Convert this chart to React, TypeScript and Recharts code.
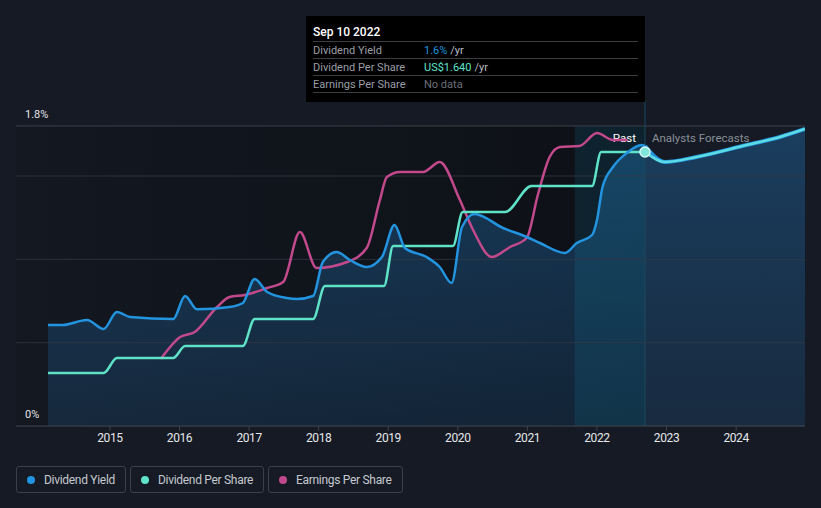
import React from 'react';
import {
  ComposedChart,
  Line,
  Area,
  XAxis,
  YAxis,
  CartesianGrid,
  ReferenceArea,
  ReferenceLine,
  ReferenceDot,
} from 'recharts';

// ---------- data ----------
const yearTicks = [2015, 2016, 2017, 2018, 2019, 2020, 2021, 2022, 2023, 2024];
const yTicks = [0, 0.5, 1.0, 1.5, 1.8];
const yInnerGrid = [0.5, 1.0, 1.5];
const yLabelValues = [0, 1.8];
const yLabelTexts = ['0%', '1.8%'];

const xDomainMin = 2013.65;
const xDomainMax = 2024.99;
const bandStart = 2021.68;
const hoverYear = 2022.69;

// Dividend Yield (%) — past
const yieldYears = [
  2014.11, 2014.32, 2014.67, 2014.91, 2015.1, 2015.29, 2015.91, 2016.08, 2016.25, 2016.72,
  2016.91, 2017.08, 2017.26, 2017.54, 2017.69, 2017.92, 2018.06, 2018.26, 2018.45, 2018.69,
  2018.91, 2019.09, 2019.24, 2019.55, 2019.74, 2019.91, 2020.06, 2020.24, 2020.65, 2020.99,
  2021.18, 2021.54, 2021.71, 2021.93, 2022.0, 2022.08, 2022.23, 2022.43, 2022.64, 2022.69,
];
const yieldValues = [
  0.606, 0.606, 0.636, 0.582, 0.684, 0.654, 0.642, 0.78, 0.7, 0.714,
  0.738, 0.882, 0.804, 0.768, 0.762, 0.78, 0.984, 1.044, 0.996, 0.954,
  1.014, 1.206, 1.068, 1.014, 0.954, 0.858, 1.194, 1.272, 1.188, 1.134,
  1.098, 1.038, 1.098, 1.146, 1.236, 1.434, 1.554, 1.638, 1.686, 1.68,
];

// Dividend Per Share (US$) — past
const dpsYears = [
  2014.11, 2014.91, 2015.1, 2015.91, 2016.08, 2016.91, 2017.08, 2017.92, 2018.09, 2018.94,
  2019.07, 2019.93, 2020.07, 2020.68, 2021.06, 2021.93, 2022.06, 2022.69,
];
const dpsValues = [
  0.318, 0.318, 0.408, 0.408, 0.48, 0.48, 0.642, 0.642, 0.84, 0.84,
  1.08, 1.08, 1.284, 1.284, 1.44, 1.44, 1.644, 1.644,
];

// Earnings Per Share — past
const epsYears = [
  2015.73, 2016.01, 2016.22, 2016.54, 2016.72, 2016.94, 2017.26, 2017.49, 2017.73, 2017.97,
  2018.41, 2018.69, 2018.88, 2018.98, 2019.17, 2019.5, 2019.74, 2020.03, 2020.22, 2020.49,
  2020.75, 2020.99, 2021.15, 2021.32, 2021.47, 2021.75, 2022.0, 2022.23, 2022.44,
];
const epsValues = [
  0.402, 0.534, 0.564, 0.714, 0.774, 0.786, 0.828, 0.864, 1.164, 0.948,
  0.984, 1.068, 1.356, 1.494, 1.524, 1.524, 1.584, 1.356, 1.176, 1.014,
  1.074, 1.128, 1.386, 1.614, 1.674, 1.68, 1.758, 1.716, 1.716,
];

// Analyst forecasts
const forecastYears = [2022.69, 2022.98, 2023.43, 2024.15, 2024.63, 2024.99];
const forecastDpsValues = [1.644, 1.584, 1.614, 1.686, 1.734, 1.782];
const forecastYieldValues = [1.68, 1.584, 1.614, 1.686, 1.734, 1.782];

const hoverLabel = 'Sep 10 2022';
const hoverYieldText = '1.6%';
const hoverDpsText = 'US$1.640';
const hoverDpsValue = 1.644;

// ---------- build series ----------
const zip = (xs: number[], vs: number[]) => xs.map((x, i) => ({ x, v: vs[i] }));
const yieldData = zip(yieldYears, yieldValues);
const dpsData = zip(dpsYears, dpsValues);
const epsData = zip(epsYears, epsValues);
const forecastDpsData = zip(forecastYears, forecastDpsValues);
const forecastYieldData = zip(forecastYears, forecastYieldValues);
const areaData = [...yieldData, ...forecastYieldData.slice(1)];

const C_YIELD = '#2394df';
const C_DPS = '#5fe3c8';
const C_EPS = '#c24a8c';
const C_FORE = '#5cdce2';
const BG = '#151a24';
const FONT = 'Roboto, "Noto Sans", sans-serif';

const makeYLabel = (text: string) => (props: any) => {
  const vb = props.viewBox || {};
  return (
    <text x={(vb.x ?? 0) + 9} y={(vb.y ?? 0) - 8} fill="#e2e4e8" fontSize={11} fontFamily={FONT} textAnchor="start">
      {text}
    </text>
  );
};

const PastLabel = (props: any) => {
  const vb = props.viewBox || {};
  const x = vb.x ?? 0;
  const y = (vb.y ?? 0) + 16;
  return (
    <g fontFamily={FONT} fontSize={11.5}>
      <text x={x - 9} y={y} fill="#ffffff" textAnchor="end">Past</text>
      <text x={x + 7} y={y} fill="#8a8f97" textAnchor="start">Analysts Forecasts</text>
    </g>
  );
};

const legendItems = [
  { label: 'Dividend Yield', color: C_YIELD, width: 110 },
  { label: 'Dividend Per Share', color: C_DPS, width: 134 },
  { label: 'Earnings Per Share', color: C_EPS, width: 135 },
];

export default function App() {
  return (
    <div
      style={{
        position: 'absolute',
        left: 0,
        top: 0,
        width: 821,
        height: 508,
        background: BG,
        fontFamily: FONT,
        overflow: 'hidden',
      }}
    >
      <ComposedChart
        width={821}
        height={508}
        margin={{ top: 126, right: 16, bottom: 52, left: 16 }}
      >
        <defs>
          <linearGradient id="pastBg" x1="0" y1="0" x2="1" y2="0">
            <stop offset="0%" stopColor="#131821" />
            <stop offset="100%" stopColor="#0d1016" />
          </linearGradient>
          <linearGradient id="areaFill" x1="0" y1="0" x2="0" y2="1">
            <stop offset="0%" stopColor="#1e5585" stopOpacity={0.6} />
            <stop offset="100%" stopColor="#1e5585" stopOpacity={0.28} />
          </linearGradient>
        </defs>
        <XAxis
          dataKey="x"
          type="number"
          domain={[xDomainMin, xDomainMax]}
          ticks={yearTicks}
          allowDataOverflow
          height={30}
          stroke="#3d424b"
          tickSize={5}
          tick={{ fill: '#e6e8eb', fontSize: 12, fontFamily: FONT, letterSpacing: -0.4 }}
        />
        <YAxis
          type="number"
          domain={[0, 1.8]}
          ticks={yTicks}
          width={0}
          axisLine={false}
          tickLine={false}
          tick={false}
          allowDataOverflow
        />
        <ReferenceArea x1={xDomainMin} x2={hoverYear} y1={0} y2={1.8} fill="url(#pastBg)" fillOpacity={1} stroke="none" />
        <CartesianGrid vertical={false} stroke="#2a2f38" />
        <Area
          data={areaData}
          dataKey="v"
          type="monotone"
          stroke="none"
          fill="url(#areaFill)"
          fillOpacity={1}
          isAnimationActive={false}
          dot={false}
          activeDot={false}
        />
        {yInnerGrid.map((v) => (
          <ReferenceLine key={'g' + v} y={v} stroke="#323844" strokeOpacity={0.8} />
        ))}
        <ReferenceLine y={1.8} stroke="#343943" />
        {yLabelValues.map((v, i) => (
          <ReferenceLine key={'l' + v} y={v} stroke="none" label={makeYLabel(yLabelTexts[i])} />
        ))}
        <ReferenceArea x1={bandStart} x2={hoverYear} y1={0} y2={1.8} fill="#13a0c8" fillOpacity={0.13} stroke="none" />
        <ReferenceLine
          segment={[{ x: hoverYear, y: 0 }, { x: hoverYear, y: 1.956 }]}
          ifOverflow="visible"
          stroke="#1d4a5e"
          strokeWidth={1}
        />
        <ReferenceLine x={hoverYear} stroke="none" label={<PastLabel />} />
        <Line data={epsData} dataKey="v" type="monotone" stroke={C_EPS} strokeWidth={2.5} dot={false} activeDot={false} isAnimationActive={false} />
        <Line data={dpsData} dataKey="v" type="monotone" stroke={C_DPS} strokeWidth={2.5} dot={false} activeDot={false} isAnimationActive={false} />
        <Line data={yieldData} dataKey="v" type="monotone" stroke={C_YIELD} strokeWidth={2.5} dot={false} activeDot={false} isAnimationActive={false} />
        <Line data={forecastYieldData} dataKey="v" type="monotone" stroke={C_YIELD} strokeWidth={4} dot={false} activeDot={false} isAnimationActive={false} />
        <Line data={forecastDpsData} dataKey="v" type="monotone" stroke={C_FORE} strokeWidth={2.5} dot={false} activeDot={false} isAnimationActive={false} />
        <ReferenceDot x={hoverYear} y={hoverDpsValue} r={5} fill="#7fe6dc" stroke="#d6faf6" strokeWidth={1.5} />
      </ComposedChart>

      {/* tooltip */}
      <div
        style={{
          position: 'absolute',
          left: 306,
          top: 16,
          width: 339,
          height: 86,
          background: '#000',
          boxSizing: 'border-box',
          padding: '7px 7px 0 7px',
          fontSize: 11,
          color: '#9a9ea5',
        }}
      >
        <div style={{ color: '#fff', fontWeight: 500, fontSize: 12, height: 18, lineHeight: '18px' }}>{hoverLabel}</div>
        {[
          { label: 'Dividend Yield', value: hoverYieldText, color: C_YIELD, suffix: '/yr' },
          { label: 'Dividend Per Share', value: hoverDpsText, color: C_DPS, suffix: '/yr' },
          { label: 'Earnings Per Share', value: 'No data', color: '#6b7079', suffix: '' },
        ].map((r) => (
          <div
            key={r.label}
            style={{
              borderTop: '1px solid #3a3d42',
              height: 16,
              lineHeight: '17px',
              display: 'flex',
              width: 325,
            }}
          >
            <span style={{ width: 111 }}>{r.label}</span>
            <span style={{ color: r.color }}>{r.value}</span>
            {r.suffix ? <span style={{ color: '#b8bcc2', marginLeft: 3 }}>{r.suffix}</span> : null}
          </div>
        ))}
        <div style={{ borderTop: '1px solid #3a3d42', width: 325 }} />
      </div>

      {/* legend */}
      <div style={{ position: 'absolute', left: 16, top: 466, display: 'flex', gap: 4 }}>
        {legendItems.map((it) => (
          <div
            key={it.label}
            style={{
              width: it.width,
              height: 27,
              boxSizing: 'border-box',
              border: '1px solid #3a3f49',
              borderRadius: 3,
              display: 'flex',
              alignItems: 'center',
              paddingLeft: 10,
            }}
          >
            <span
              style={{
                width: 8,
                height: 8,
                borderRadius: 4,
                background: it.color,
                display: 'inline-block',
                marginRight: 9,
              }}
            />
            <span style={{ color: '#c5c9cf', fontSize: 12, letterSpacing: -0.3 }}>{it.label}</span>
          </div>
        ))}
      </div>
    </div>
  );
}
